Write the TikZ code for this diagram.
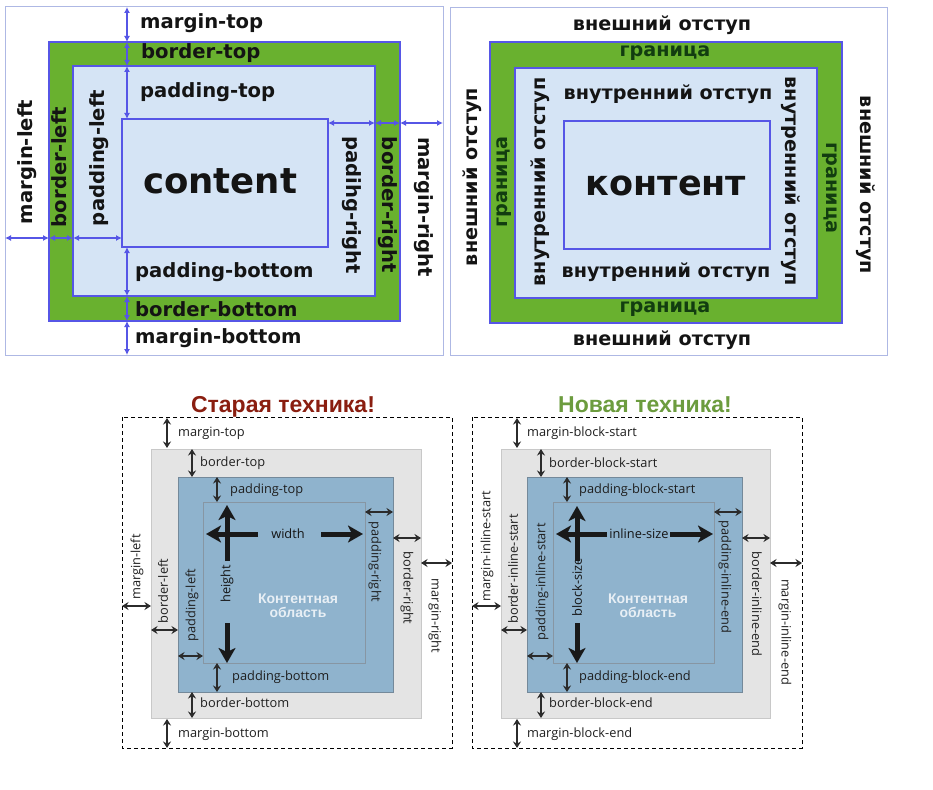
\documentclass[tikz,border=0pt]{standalone}
\usepackage{fontspec}
\setmainfont{DejaVu Sans}
\newfontfamily\osans{Open Sans}
\newfontfamily\lsans{Liberation Sans}
\usetikzlibrary{arrows.meta}
\definecolor{tlblue}{HTML}{5656E6}
\definecolor{tlgreen}{HTML}{69B12F}
\definecolor{tlfill}{HTML}{D5E4F5}
\definecolor{tlframe}{HTML}{AEB8E4}
\definecolor{grtext}{HTML}{123D10}
\definecolor{bgray}{HTML}{E4E4E4}
\definecolor{bgrayline}{HTML}{C8C8C8}
\definecolor{bblue}{HTML}{8FB3CD}
\definecolor{bblueline}{HTML}{74899A}
\definecolor{cline}{HTML}{8796A3}
\definecolor{arrc}{HTML}{2B2B2B}
\definecolor{oldred}{HTML}{8A1E10}
\definecolor{newgreen}{HTML}{6C9C3E}
\definecolor{cwhite}{HTML}{E8EFF5}
\tikzset{
  tlab/.style={font=\fontsize{19.6}{20}\selectfont\bfseries, inner sep=0pt, text=black!92},
  trab/.style={font=\fontsize{19.2}{20}\selectfont\bfseries, inner sep=0pt, text=black!92},
  grab/.style={trab, text=grtext},
  bigtxt/.style={font=\fontsize{35.5}{36}\selectfont\bfseries, inner sep=0pt, text=black!92},
  blab/.style={font=\osans\fontsize{12.8}{14}\selectfont, inner sep=0pt, text=black!88},
  ctxt/.style={font=\lsans\bfseries\fontsize{14}{14}\selectfont, inner sep=0pt, text=cwhite, align=center},
  ttl/.style={font=\lsans\bfseries\fontsize{23}{24}\selectfont, inner sep=0pt},
  barr/.style={draw=tlblue, line width=1.3pt, {Latex[length=6pt,width=6pt]}-{Latex[length=6pt,width=6pt]}},
  darr/.style={draw=arrc, line width=1.6pt, {Stealth[length=6.5pt,width=8pt]}-{Stealth[length=6.5pt,width=8pt]}},
  bigarr/.style={draw=black!90, line width=5pt, -{Stealth[length=15pt,width=17pt,inset=4pt]}},
  dbox/.style={draw=black, line width=0.9pt, dash pattern=on 4pt off 3pt},
}
\begin{document}
\begin{tikzpicture}[x=1pt,y=-1pt]
\useasboundingbox (0,0) rectangle (933,789);
\fill[white] (0,0) rectangle (933,789);

% ================= TOP LEFT =================
\draw[tlframe, line width=1pt] (5,7) rectangle (443,355);
\draw[tlblue, line width=2pt, fill=tlgreen] (49,42) rectangle (400,321);
\draw[tlblue, line width=2pt, fill=tlfill] (73,66) rectangle (375,296);
\draw[tlblue, line width=2pt, fill=tlfill] (122,119) rectangle (328,247);

\coordinate (v0) at (127,7);  \coordinate (v1) at (127,42);
\coordinate (v2) at (127,66); \coordinate (v3) at (127,119);
\coordinate (v4) at (127,247); \coordinate (v5) at (127,296);
\coordinate (v6) at (127,321); \coordinate (v7) at (127,355);
\draw[barr] (v0) -- (v1);
\draw[barr] (v1) -- (v2);
\draw[barr] (v2) -- (v3);
\draw[barr] (v4) -- (v5);
\draw[barr] (v5) -- (v6);
\draw[barr] (v6) -- (v7);

\coordinate (h0) at (5,238);  \coordinate (h1) at (49,238);
\coordinate (h2) at (73,238); \coordinate (h3) at (122,238);
\draw[barr] (h0) -- (h1);
\draw[barr] (h1) -- (h2);
\draw[barr] (h2) -- (h3);
\coordinate (r0) at (328,123); \coordinate (r1) at (375,123);
\coordinate (r2) at (400,123); \coordinate (r3) at (443,123);
\draw[barr] (r0) -- (r1);
\draw[barr] (r1) -- (r2);
\draw[barr] (r2) -- (r3);

\node[tlab, anchor=west] (mt) at (140,23) {margin-top};
\node[tlab, anchor=west] (bt) at (141,53) {border-top};
\node[tlab, anchor=west] (pt) at (140,92) {padding-top};
\node[tlab, anchor=west] (pb) at (135,272) {padding-bottom};
\node[tlab, anchor=west] (bb) at (135,309) {border-bottom};
\node[tlab, anchor=west] (mb) at (135,338) {margin-bottom};
\node[tlab, rotate=90] (ml) at (27,162) {margin-left};
\node[tlab, rotate=90] (bl) at (59,167) {border-left};
\node[tlab, rotate=90] (pl) at (99,158) {padding-left};
\node[tlab, rotate=-90] (pr) at (352,205) {padihg-right};
\node[tlab, rotate=-90] (br) at (388,205) {border-right};
\node[tlab, rotate=-90] (mr) at (424,207) {margin-right};
\node[bigtxt, anchor=base] (cnt) at (220,193) {content};

% ================= TOP RIGHT =================
\draw[tlframe, line width=1pt] (450,8) rectangle (887,355);
\draw[tlblue, line width=1.6pt, fill=tlgreen] (490,42) rectangle (842,323);
\draw[tlblue, line width=1.6pt, fill=tlfill] (515,68) rectangle (817,298);
\draw[tlblue, line width=1.6pt, fill=tlfill] (564,121) rectangle (770,249);

\node[trab] (rt1) at (662,25) {внешний отступ};
\node[grab] (rt2) at (665,53) {граница};
\node[trab] (rt3) at (668,94) {внутренний отступ};
\node[font=\fontsize{35}{36}\selectfont\bfseries, inner sep=0pt, text=black!92, anchor=base] (kont) at (666,195) {контент};
\node[trab] (rb3) at (666,272) {внутренний отступ};
\node[grab] (rb2) at (665,309) {граница};
\node[trab] (rb1) at (662,340) {внешний отступ};
\node[trab, rotate=90] (rl1) at (472,177) {внешний отступ};
\node[grab, rotate=90] (rl2) at (504,182) {граница};
\node[trab, rotate=90] (rl3) at (540,182) {внутренний отступ};
\node[trab, rotate=-90] (rr3) at (791,181) {внутренний отступ};
\node[grab, rotate=-90] (rr2) at (830,188) {граница};
\node[trab, rotate=-90] (rr1) at (866,185) {внешний отступ};

% ================= BOTTOM LEFT =================
\node[ttl, text=oldred, anchor=base] (t1) at (283,412) {Старая техника!};
\draw[dbox] (122,417) rectangle (452,748);
\draw[fill=bgray, draw=bgrayline, line width=1pt] (151,449) rectangle (421,718);
\draw[fill=bblue, draw=bblueline, line width=1pt] (178,477) rectangle (393,692);
\draw[draw=cline, line width=1pt] (203,502) rectangle (365,663);

\coordinate (a0) at (167,418); \coordinate (a1) at (167,448);
\coordinate (a2) at (192,449); \coordinate (a3) at (192,477);
\coordinate (a4) at (217,477); \coordinate (a5) at (217,502);
\coordinate (a6) at (217,663); \coordinate (a7) at (217,692);
\coordinate (a8) at (192,692); \coordinate (a9) at (192,718);
\coordinate (a10) at (167,719); \coordinate (a11) at (167,748);
\draw[darr] (a0) -- (a1);
\draw[darr] (a2) -- (a3);
\draw[darr] (a4) -- (a5);
\draw[darr] (a6) -- (a7);
\draw[darr] (a8) -- (a9);
\draw[darr] (a10) -- (a11);
\coordinate (b0) at (122,606); \coordinate (b1) at (151,606);
\coordinate (b2) at (151,630); \coordinate (b3) at (178,630);
\coordinate (b4) at (178,656); \coordinate (b5) at (203,656);
\coordinate (b6) at (365,512); \coordinate (b7) at (393,512);
\coordinate (b8) at (393,538); \coordinate (b9) at (421,538);
\coordinate (b10) at (421,563); \coordinate (b11) at (452,563);
\draw[darr] (b0) -- (b1);
\draw[darr] (b2) -- (b3);
\draw[darr] (b4) -- (b5);
\draw[darr] (b6) -- (b7);
\draw[darr] (b8) -- (b9);
\draw[darr] (b10) -- (b11);

\node[blab, anchor=west] (lmt) at (178,433) {margin-top};
\node[blab, anchor=west] (lbt) at (200,463) {border-top};
\node[blab, anchor=west] (lpt) at (230,490) {padding-top};
\node[blab, anchor=west] (lpb) at (232,677) {padding-bottom};
\node[blab, anchor=west] (lbb) at (200,703) {border-bottom};
\node[blab, anchor=west] (lmb) at (178,734) {margin-bottom};
\node[blab, rotate=90] (lml) at (137,567) {margin-left};
\node[blab, rotate=90] (lbl) at (163,591) {border-left};
\node[blab, rotate=90] (lpl) at (192,605) {padding-left};
\node[blab, rotate=-90] (lpr) at (375,562) {padding-right};
\node[blab, rotate=-90] (lbr) at (407,588) {border-right};
\node[blab, rotate=-90] (lmr) at (435,616) {margin-right};

\node[blab, text=black!92] (lw) at (288,534) {width};
\node[blab, rotate=90, text=black!92] (lh) at (227,584) {height};
\coordinate (w1) at (258,534); \coordinate (w1t) at (206,534);
\coordinate (w2) at (321,534); \coordinate (w2t) at (363,534);
\coordinate (hh1) at (227,561); \coordinate (hh1t) at (227,505);
\coordinate (hh2) at (227,623); \coordinate (hh2t) at (227,663);
\draw[bigarr] (w1) -- (w1t);
\draw[bigarr] (w2) -- (w2t);
\draw[bigarr] (hh1) -- (hh1t);
\draw[bigarr] (hh2) -- (hh2t);
\node[ctxt] (lca) at (298,606) {Контентная\\область};

% ================= BOTTOM RIGHT =================
\node[ttl, text=newgreen, anchor=base] (t2) at (645,412) {Новая техника!};
\draw[dbox] (472,417) rectangle (802,748);
\draw[fill=bgray, draw=bgrayline, line width=1pt] (501,449) rectangle (770,718);
\draw[fill=bblue, draw=bblueline, line width=1pt] (527,477) rectangle (742,692);
\draw[draw=cline, line width=1pt] (553,502) rectangle (714,663);

\coordinate (c0) at (517,418); \coordinate (c1) at (517,448);
\coordinate (c2) at (541,449); \coordinate (c3) at (541,477);
\coordinate (c4) at (567,477); \coordinate (c5) at (567,502);
\coordinate (c6) at (567,663); \coordinate (c7) at (567,692);
\coordinate (c8) at (541,692); \coordinate (c9) at (541,718);
\coordinate (c10) at (517,719); \coordinate (c11) at (517,748);
\draw[darr] (c0) -- (c1);
\draw[darr] (c2) -- (c3);
\draw[darr] (c4) -- (c5);
\draw[darr] (c6) -- (c7);
\draw[darr] (c8) -- (c9);
\draw[darr] (c10) -- (c11);
\coordinate (d0) at (472,606); \coordinate (d1) at (501,606);
\coordinate (d2) at (501,630); \coordinate (d3) at (527,630);
\coordinate (d4) at (527,656); \coordinate (d5) at (553,656);
\coordinate (d6) at (714,512); \coordinate (d7) at (742,512);
\coordinate (d8) at (742,538); \coordinate (d9) at (770,538);
\coordinate (d10) at (770,563); \coordinate (d11) at (802,563);
\draw[darr] (d0) -- (d1);
\draw[darr] (d2) -- (d3);
\draw[darr] (d4) -- (d5);
\draw[darr] (d6) -- (d7);
\draw[darr] (d8) -- (d9);
\draw[darr] (d10) -- (d11);

\node[blab, anchor=west] (nmt) at (527,433) {margin-block-start};
\node[blab, anchor=west] (nbt) at (549,463) {border-block-start};
\node[blab, anchor=west] (npt) at (579,490) {padding-block-start};
\node[blab, anchor=west] (npb) at (579,677) {padding-block-end};
\node[blab, anchor=west] (nbb) at (549,703) {border-block-end};
\node[blab, anchor=west] (nmb) at (527,734) {margin-block-end};
\node[blab, rotate=90] (nml) at (487,546) {margin-inline-start};
\node[blab, rotate=90] (nbl) at (513,569) {border-inline-start};
\node[blab, rotate=90] (npl) at (542,582) {padding-inline-start};
\node[blab, rotate=-90] (npr) at (725,577) {padding-inline-end};
\node[blab, rotate=-90] (nbr) at (757,604) {border-inline-end};
\node[blab, rotate=-90] (nmr) at (785,632) {margin-inline-end};

\node[blab, text=black!92] (nw) at (639,534) {inline-size};
\node[blab, rotate=90, text=black!92] (nh) at (577,587) {block-size};
\coordinate (x1) at (607,534); \coordinate (x1t) at (556,534);
\coordinate (x2) at (670,534); \coordinate (x2t) at (713,534);
\coordinate (y1) at (577,561); \coordinate (y1t) at (577,506);
\coordinate (y2) at (577,623); \coordinate (y2t) at (577,663);
\draw[bigarr] (x1) -- (x1t);
\draw[bigarr] (x2) -- (x2t);
\draw[bigarr] (y1) -- (y1t);
\draw[bigarr] (y2) -- (y2t);
\node[ctxt] (nca) at (648,606) {Контентная\\область};
\end{tikzpicture}
\end{document}
